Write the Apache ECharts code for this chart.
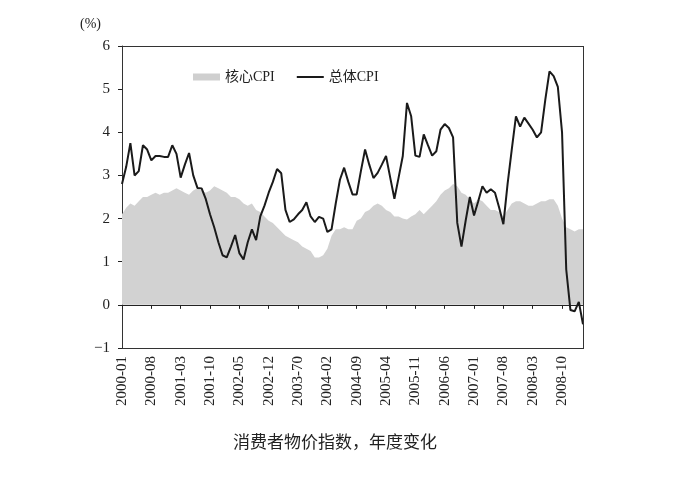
<!DOCTYPE html>
<html>
<head>
<meta charset="utf-8">
<script src="https://cdn.jsdelivr.net/npm/echarts@6/dist/echarts.min.js"></script>
<style>
html, body { margin: 0; padding: 0; background: #fff; }
#main { width: 687px; height: 499px; }
</style>
</head>
<body>
<div id="main"></div>
<script>
// 月份: 2000-01 ~ 2009-03
var months = [];
for (var y = 2000; y <= 2009; y++)
    for (var m = 1; m <= 12; m++) {
        if (y == 2009 && m > 3) break;
        months.push(y + "-" + (m < 10 ? "0" + m : m));
    }
// 横轴标签(原图 2003-07 印成了 2003-70)
var tickLabels = {
    "2003-07": "2003-70"
};

// 总体CPI 年度变化(%)
var headline = [
    2.8, 3.2, 3.75, 3.0, 3.1, 3.7, 3.6, 3.35, 3.45, 3.45, 3.43, 3.43,
    3.7, 3.5, 2.95, 3.25, 3.52, 3.0, 2.71, 2.7, 2.45, 2.1, 1.8, 1.45,
    1.15, 1.1, 1.35, 1.62, 1.2, 1.05, 1.45, 1.75, 1.5, 2.05, 2.3, 2.6,
    2.85, 3.15, 3.05, 2.2, 1.92, 1.98, 2.1, 2.2, 2.38, 2.05, 1.92, 2.04,
    2.0, 1.69, 1.75, 2.35, 2.9, 3.18, 2.85, 2.56, 2.56, 3.1, 3.6, 3.25,
    2.94, 3.06, 3.25, 3.45, 2.95, 2.46, 2.95, 3.45, 4.68, 4.37, 3.46, 3.43,
    3.95, 3.7, 3.46, 3.56, 4.06, 4.19, 4.1, 3.88, 1.9, 1.35, 1.95, 2.5,
    2.07, 2.4, 2.75, 2.6, 2.68, 2.6, 2.25, 1.87, 2.8, 3.6, 4.37, 4.13,
    4.34, 4.2, 4.06, 3.88, 4.0, 4.75, 5.41, 5.3, 5.05, 4.0, 0.82, -0.12,
    -0.15, 0.07, -0.45
];
// 核心CPI 年度变化(%)
var core = [
    2.1, 2.25, 2.35, 2.3, 2.4, 2.5, 2.5, 2.55, 2.6, 2.55, 2.6, 2.6,
    2.65, 2.7, 2.65, 2.6, 2.55, 2.65, 2.7, 2.65, 2.6, 2.65, 2.75, 2.7,
    2.65, 2.6, 2.5, 2.5, 2.45, 2.35, 2.3, 2.35, 2.2, 2.15, 2.05, 1.95,
    1.9, 1.8, 1.7, 1.6, 1.55, 1.5, 1.45, 1.35, 1.3, 1.25, 1.1, 1.1,
    1.15, 1.3, 1.6, 1.75, 1.75, 1.8, 1.75, 1.75, 1.95, 2.0, 2.15, 2.2,
    2.3, 2.35, 2.3, 2.2, 2.15, 2.05, 2.05, 2.0, 1.98, 2.05, 2.1, 2.2,
    2.1, 2.2, 2.3, 2.4, 2.55, 2.65, 2.7, 2.8, 2.75, 2.6, 2.55, 2.45,
    2.35, 2.45, 2.4, 2.3, 2.2, 2.2, 2.15, 2.05, 2.2, 2.35, 2.4, 2.4,
    2.35, 2.3, 2.3, 2.35, 2.4, 2.4, 2.45, 2.45, 2.3, 2.0, 1.8, 1.75,
    1.7, 1.75, 1.75
];
var yTicks = [-1, 0, 1, 2, 3, 4, 5, 6];

var serif = "'Liberation Serif', 'Noto Sans CJK SC', serif";
var frameLine = { show: true, onZero: false, lineStyle: { color: '#333', width: 1 } };
var myChart = echarts.init(document.getElementById('main'));
option = {
    animation: false,
    backgroundColor: '#fff',
    title: {
        text: '消费者物价指数，年度变化',
        left: 228,
        top: 428,
        textStyle: {
            fontFamily: "'Noto Sans CJK SC', sans-serif",
            fontSize: 17,
            fontWeight: 'normal',
            color: '#222'
        }
    },
    graphic: [
        {
            type: 'text',
            left: 80,
            top: 17,
            style: { text: '(%)', font: "14px 'Liberation Serif', serif", fill: '#222' }
        },
        {
            // 图框上沿
            type: 'rect',
            left: 122,
            top: 46,
            silent: true,
            z: 100,
            shape: { width: 462, height: 1 },
            style: { fill: '#333' }
        },
        {
            // 图框右沿
            type: 'rect',
            left: 583,
            top: 46,
            silent: true,
            z: 100,
            shape: { width: 1, height: 303 },
            style: { fill: '#333' }
        }
    ],
    legend: {
        left: 188,
        top: 65,
        itemGap: 22,
        itemWidth: 27,
        itemHeight: 7,
        textStyle: { fontFamily: serif, fontSize: 14, color: '#222' },
        data: [
            { name: '核心CPI', icon: 'rect', itemStyle: { color: '#cfcfcf' } },
            { name: '总体CPI', icon: 'path://M0,0 L27,0 L27,2 L0,2 Z', itemStyle: { color: '#1a1a1a' } }
        ]
    },
    grid: {
        left: 122,
        right: 104,
        top: 46,
        bottom: 151
    },
    xAxis: [
        {
            type: 'category',
            boundaryGap: false,
            data: months,
            axisLine: frameLine,
            axisTick: { show: false },
            axisLabel: {
                interval: 6,
                rotate: 90,
                margin: 8,
                fontFamily: serif,
                fontSize: 15,
                color: '#222',
                formatter: function (v) { return tickLabels[v] || v; }
            },
            splitLine: { show: false }
        },
        {
            type: 'category',
            boundaryGap: false,
            data: months,
            position: 'bottom',
            axisLine: { onZero: true, lineStyle: { color: '#222', width: 1 } },
            axisTick: { interval: 6, length: 4, lineStyle: { color: '#222' } },
            axisLabel: { show: false },
            splitLine: { show: false }
        }
    ],
    yAxis: [
        {
            type: 'value',
            min: yTicks[0],
            max: yTicks[yTicks.length - 1],
            interval: 1,
            axisLine: frameLine,
            axisTick: { show: true, length: 4, lineStyle: { color: '#222' } },
            axisLabel: {
                margin: 12,
                fontFamily: serif,
                fontSize: 15,
                color: '#222',
                formatter: function (v) { return v < 0 ? '\u2212' + (-v) : v; }
            },
            splitLine: { show: false }
        }
    ],
    series: [
        {
            name: '核心CPI',
            type: 'line',
            xAxisIndex: 1,
            data: core,
            symbol: 'none',
            lineStyle: { width: 0 },
            itemStyle: { color: '#cfcfcf' },
            areaStyle: { color: '#d2d2d2', opacity: 1 },
            z: 1
        },
        {
            name: '总体CPI',
            type: 'line',
            xAxisIndex: 1,
            data: headline,
            symbol: 'none',
            lineStyle: { color: '#1a1a1a', width: 2 },
            itemStyle: { color: '#1a1a1a' },
            z: 3
        }
    ]
};
myChart.setOption(option);
</script>
</body>
</html>
